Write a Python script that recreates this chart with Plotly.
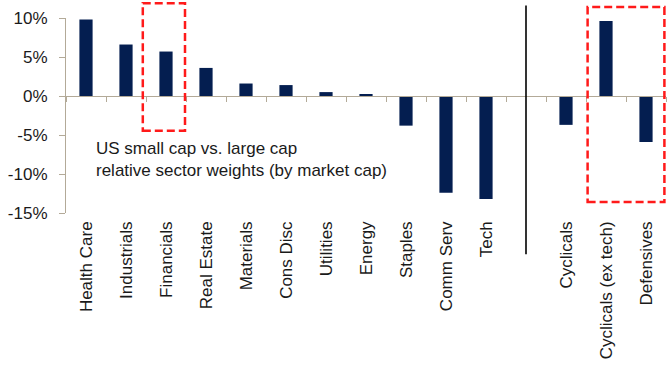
import plotly.graph_objects as go

categories = ["Health Care", "Industrials", "Financials", "Real Estate", "Materials",
              "Cons Disc", "Utilities", "Energy", "Staples", "Comm Serv", "Tech",
              " ", "Cyclicals", "Cyclicals (ex tech)", "Defensives"]
values = [9.8, 6.6, 5.7, 3.6, 1.6, 1.4, 0.5, 0.15, -3.8, -12.4, -13.2,
          None, -3.7, 9.6, -5.9]
y_ticks = [10, 5, 0, -5, -10, -15]
y_tick_labels = ["10%", "5%", "0%", "-5%", "-10%", "-15%"]

YMIN, YMAX = -15, 10
FONT = "Arial, Liberation Sans, sans-serif"
NAVY = "#041E50"
AXIS_COL = "#b3aa98"


def yp(v):
    return (v - YMIN) / (YMAX - YMIN)


fig = go.Figure()
fig.add_trace(go.Bar(x=categories, y=values, marker_color=NAVY,
                     marker_line_width=0, width=0.33, showlegend=False))
# invisible trace for the zero-line axis with boundary ticks
fig.add_trace(go.Bar(x=categories, y=[None] * len(categories), xaxis="x2",
                     showlegend=False, hoverinfo="skip"))

fig.update_layout(
    width=667, height=365,
    margin=dict(l=66, r=1, t=18, b=152),
    plot_bgcolor="white", paper_bgcolor="white",
    font=dict(family=FONT, size=17, color="#1a1a1a"),
    xaxis=dict(type="category", categoryorder="array", categoryarray=categories,
               tickangle=-90, showline=False, ticks="", showgrid=False,
               zeroline=False, tickfont=dict(size=17), ticklabelstandoff=4,
               range=[-0.5, len(categories) - 0.5]),
    xaxis2=dict(type="category", categoryorder="array", categoryarray=categories,
                overlaying="x", matches="x", anchor="free", position=yp(0),
                side="bottom", showline=True, linecolor=AXIS_COL, linewidth=1.2,
                ticks="outside", tickson="boundaries", ticklen=5, tickcolor=AXIS_COL,
                tickwidth=1.2, showticklabels=False, showgrid=False, zeroline=False),
    yaxis=dict(range=[YMIN, YMAX], tickvals=y_ticks, ticktext=y_tick_labels,
               showline=True, linecolor=AXIS_COL, linewidth=1.2, ticks="outside",
               ticklen=6, tickcolor=AXIS_COL, tickwidth=1.2, showgrid=False,
               zeroline=False, tickfont=dict(size=17), ticklabelstandoff=8),
    bargap=0.67,
)

# vertical separator
fig.add_shape(type="line", xref="x", yref="paper", x0=11, x1=11,
              y0=yp(-20.3), y1=yp(11.6), line=dict(color="black", width=1.6))
# red dashed boxes
dash = dict(color="#ff1a1a", width=2.5, dash="8px,4px")
fig.add_shape(type="rect", xref="x", yref="paper", x0=1.42, x1=2.475,
              y0=yp(-4.45), y1=yp(11.9), line=dash)
fig.add_shape(type="rect", xref="x", yref="paper", x0=12.54, x1=14.46,
              y0=yp(-13.6), y1=yp(11.4), line=dash)

fig.add_annotation(xref="x", yref="y", x=0.2, y=-8.2, xanchor="left", yanchor="middle",
                   align="left", showarrow=False,
                   text="US small cap vs. large cap<br>relative sector weights (by market cap)",
                   font=dict(size=17, color="#1a1a1a", family=FONT))

fig.write_html("out.html")
